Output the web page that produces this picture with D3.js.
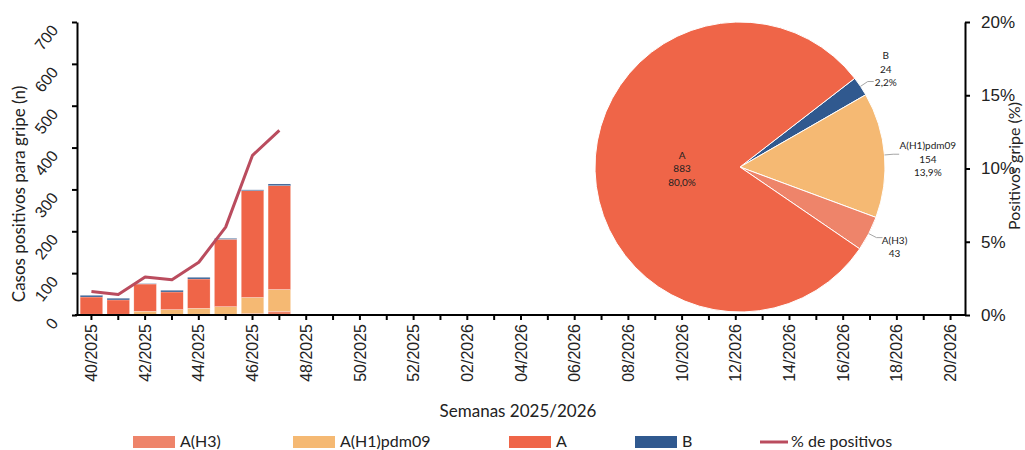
<!DOCTYPE html>
<html><head><meta charset="utf-8">
<script src="https://cdn.jsdelivr.net/npm/d3@7"></script>
<style>
body{margin:0;background:#fff;}
svg{font-family:Lato,"Liberation Sans",sans-serif;}
</style></head>
<body><svg id="c" width="1025" height="450"></svg>
<script>
// ---- data ----
const weeks = ["40/2025","41/2025","42/2025","43/2025","44/2025","45/2025","46/2025","47/2025","48/2025","49/2025","50/2025","51/2025","52/2025",
"01/2026","02/2026","03/2026","04/2026","05/2026","06/2026","07/2026","08/2026","09/2026","10/2026","11/2026","12/2026","13/2026","14/2026","15/2026","16/2026","17/2026","18/2026","19/2026","20/2026"];
const dataWeeks = ["40/2025","41/2025","42/2025","43/2025","44/2025","45/2025","46/2025","47/2025"];
const seriesNames = ["A(H3)","A(H1)pdm09","A","B"];
const valH3 = [0,1,1,2,2,2,4,9];
const valH1 = [2,1,8,11,14,18,38,52];
const valA  = [41,34,65,42,70,161,255,248];
const valB  = [4,4,1,4,4,2,2,4];
const pctPos = [1.6,1.4,2.6,2.4,3.6,6.0,10.9,12.6];
const leftTicks = [0,100,200,300,400,500,600,700];
const rightTicks = [0,5,10,15,20];
const pieNames = ["B","A(H1)pdm09","A(H3)","A"];
const pieValues = [24,154,43,883];
const piePct = ["2,2%","13,9%","3,9%","80,0%"];
const pieShowPct = [true,true,false,true];

const colors = {"A(H3)":"#EE846A","A(H1)pdm09":"#F5B973","A":"#EF6548","B":"#30598F"};
const lineColor = "#BA4C5E";

const svg = d3.select("#c");
const x = d3.scaleBand().domain(weeks).range([78,964]).paddingInner(0.16).paddingOuter(0.08);
const yL = d3.scaleLinear().domain([0,700]).range([315,22]);
const yR = d3.scaleLinear().domain([0,20]).range([315,22]);

// stacked bars
const rows = dataWeeks.map((w,i)=>({week:w,"A(H3)":valH3[i],"A(H1)pdm09":valH1[i],"A":valA[i],"B":valB[i]}));
const stack = d3.stack().keys(seriesNames)(rows);
svg.append("g").selectAll("g").data(stack).join("g")
  .attr("fill",d=>colors[d.key])
  .selectAll("rect").data(d=>d).join("rect")
  .attr("x",d=>x(d.data.week)).attr("width",x.bandwidth())
  .attr("y",d=>yL(d[1])).attr("height",d=>Math.max(0,yL(d[0])-yL(d[1])))
  .attr("stroke","#fff").attr("stroke-opacity",0.5).attr("stroke-width",0.5);

// line
const line = d3.line().x((d,i)=>x(dataWeeks[i])+x.bandwidth()/2).y(d=>yR(d));
svg.append("path").datum(pctPos).attr("d",line).attr("fill","none")
  .attr("stroke",lineColor).attr("stroke-width",3).attr("stroke-linejoin","round");

// axes
const axL = svg.append("g").attr("transform","translate(77,0)")
  .call(d3.axisLeft(yL).tickValues(leftTicks).tickSize(5).tickSizeOuter(0));
axL.select(".domain").attr("stroke-width",2);
axL.selectAll(".tick line").attr("stroke-width",2);
axL.selectAll(".tick text").attr("font-size",16).attr("fill","#222")
  .attr("text-anchor","end").attr("x",0).attr("dy",0)
  .attr("transform","translate(-18,8) rotate(-52)");

const axR = svg.append("g").attr("transform","translate(965,0)")
  .call(d3.axisRight(yR).tickValues(rightTicks).tickSize(5).tickSizeOuter(0).tickFormat(d=>d+"%"));
axR.select(".domain").attr("stroke-width",2);
axR.selectAll(".tick line").attr("stroke-width",2);
axR.selectAll(".tick text").attr("font-size",17).attr("fill","#222").attr("x",16);

const axB = svg.append("g").attr("transform","translate(0,315)")
  .call(d3.axisBottom(x).tickSize(5).tickSizeOuter(0).tickFormat((d,i)=>i%2===0?d:""));
axB.select(".domain").attr("d","M75,0H966").attr("stroke-width",2);
axB.selectAll(".tick line").attr("stroke-width",2);
axB.selectAll(".tick text").attr("font-size",16).attr("fill","#222")
  .attr("text-anchor","end").attr("y",0).attr("dy","0.35em")
  .attr("transform","translate(0,9) rotate(-90)");

// axis titles
svg.append("text").attr("transform","translate(25,194) rotate(-90)").attr("text-anchor","middle")
  .attr("font-size",17).attr("fill","#222").text("Casos positivos para gripe (n)");
svg.append("text").attr("transform","translate(1020,166) rotate(-90)").attr("text-anchor","middle")
  .attr("font-size",16).attr("fill","#222").text("Positivos gripe (%)");
svg.append("text").attr("x",518).attr("y",417).attr("text-anchor","middle")
  .attr("font-size",17).attr("fill","#222").text("Semanas 2025/2026");

// pie
const cx=740, cy=167, R=145;
const startA = 52.3*Math.PI/180;
const pieData = d3.pie().sort(null).value(d=>d.value).startAngle(startA).endAngle(startA+2*Math.PI)
  (pieValues.map((v,i)=>({name:pieNames[i],value:v,pct:piePct[i],showPct:pieShowPct[i]})));
const arc = d3.arc().innerRadius(0).outerRadius(R);
const gp = svg.append("g").attr("transform",`translate(${cx},${cy})`);
gp.selectAll("path").data(pieData).join("path").attr("d",arc)
  .attr("fill",d=>colors[d.data.name]).attr("stroke","#fff").attr("stroke-width",1);

const labelFactor = {"B":1.21,"A(H1)pdm09":1.3,"A(H3)":1.2,"A":0.4};
function polar(a,r){return [Math.sin(a)*r,-Math.cos(a)*r];}
pieData.forEach(d=>{
  const mid=(d.startAngle+d.endAngle)/2;
  const f=labelFactor[d.data.name];
  const [lx,ly]=polar(mid,R*f);
  const lines=[d.data.name,String(d.data.value)];
  if(d.data.showPct) lines.push(d.data.pct);
  const t=gp.append("text").attr("text-anchor","middle").attr("font-size",10).attr("fill","#222");
  const y0 = ly - (lines.length-1)*13.5/2 + (d.data.name==="A(H1)pdm09"?8:0);
  lines.forEach((s,k)=>t.append("tspan").attr("x",lx).attr("y",y0+k*13.5).attr("dy","0.35em").text(s));
  if(f>1){
    const p1=polar(mid,R), p2=polar(mid,R*1.06);
    gp.append("path").attr("d",`M${p1[0]},${p1[1]}L${p2[0]},${p2[1]}h6`)
      .attr("fill","none").attr("stroke","#A6A6A6").attr("stroke-width",1);
  }
});

// legend
const legendItems = [
  {name:"A(H3)",x:133,type:"rect"},
  {name:"A(H1)pdm09",x:293,type:"rect"},
  {name:"A",x:509,type:"rect"},
  {name:"B",x:635,type:"rect"},
  {name:"% de positivos",x:760,type:"line"}];
const lg = svg.append("g");
legendItems.forEach(it=>{
  if(it.type==="rect"){
    lg.append("rect").attr("x",it.x).attr("y",436).attr("width",42).attr("height",12).attr("fill",colors[it.name]);
    lg.append("text").attr("x",it.x+47).attr("y",441).attr("dy","0.35em").attr("font-size",16).attr("fill","#222").text(it.name);
  } else {
    lg.append("line").attr("x1",it.x).attr("x2",it.x+28).attr("y1",442).attr("y2",442).attr("stroke",lineColor).attr("stroke-width",3);
    lg.append("text").attr("x",it.x+31).attr("y",441).attr("dy","0.35em").attr("font-size",16).attr("fill","#222").text(it.name);
  }
});
</script></body></html>
